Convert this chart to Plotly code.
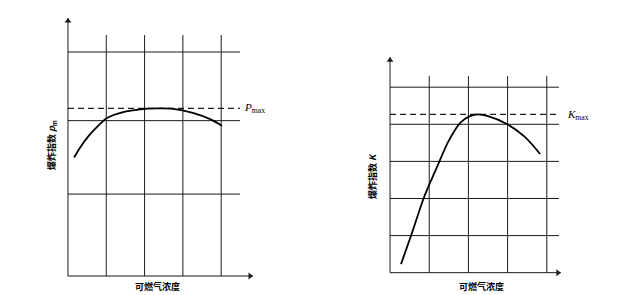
import plotly.graph_objects as go

# ---------------- data ----------------
# Left chart: explosion index p_m vs combustible gas concentration
left_curve_x = [0.16, 0.31, 0.52, 0.76, 1.02, 1.44, 2.01, 2.40, 2.74, 3.26, 3.71, 4.02]
left_curve_y = [3.21, 3.47, 3.77, 4.04, 4.28, 4.44, 4.53, 4.54, 4.53, 4.42, 4.25, 4.07]
left_vgrid = [1, 2, 3, 4]
left_vgrid_top = 6.53
left_hgrid = [2.22, 4.21, 6.07]
left_hgrid_end = 4.49
left_pmax = 4.54
left_x_arrow = 4.83
left_y_arrow = 6.99

# Right chart: explosion index K vs combustible gas concentration
right_curve_x = [0.28, 0.56, 0.87, 1.20, 1.48, 1.79, 2.04, 2.24, 2.50, 2.98, 3.44, 3.83]
right_curve_y = [0.23, 1.07, 2.04, 2.85, 3.52, 4.04, 4.22, 4.27, 4.22, 4.01, 3.66, 3.20]
right_vgrid = [1, 2, 3, 4]
right_vgrid_top = 5.30
right_hgrid = [1, 2, 3, 4, 5]
right_hgrid_end = 4.31
right_kmax = 4.27
right_x_arrow = 4.36
right_y_arrow = 5.81

x_title = "可燃气浓度"
left_y_title = "爆炸指数 <i>p</i><sub>m</sub>"
right_y_title = "爆炸指数 <i>K</i>"
left_max_label = "<i>P</i><sub>max</sub>"
right_max_label = "<i>K</i><sub>max</sub>"

W, H = 623, 295
LINE = "#1a1a1a"
FONT_CJK = "Noto Sans CJK SC"


def grid_xy(vlines, vtop, hlines, hend):
    xs, ys = [], []
    for v in vlines:
        xs += [v, v, None]
        ys += [0, vtop, None]
    for h in hlines:
        xs += [0, hend, None]
        ys += [h, h, None]
    return xs, ys


fig = go.Figure()

for (vg, vt, hg, he, cx, cy, mx, xarr, yarr, xa, ya, xs, ys) in [
    (left_vgrid, left_vgrid_top, left_hgrid, left_hgrid_end, left_curve_x, left_curve_y,
     left_pmax, left_x_arrow, left_y_arrow, "x", "y", 38.3, 36.9),
    (right_vgrid, right_vgrid_top, right_hgrid, right_hgrid_end, right_curve_x, right_curve_y,
     right_kmax, right_x_arrow, right_y_arrow, "x2", "y2", 39.2, 37.1),
]:
    gx, gy = grid_xy(vg, vt, hg, he)
    fig.add_trace(go.Scatter(x=gx, y=gy, mode="lines", xaxis=xa, yaxis=ya,
                             line=dict(color=LINE, width=1), hoverinfo="skip",
                             showlegend=False))
    # axes with arrow heads
    fig.add_trace(go.Scatter(x=[xarr, 0, 0], y=[0, 0, yarr], mode="lines", xaxis=xa, yaxis=ya,
                             line=dict(color=LINE, width=1), hoverinfo="skip",
                             showlegend=False))
    head = 3.0  # px offset so the triangle tip sits at the axis end
    fig.add_trace(go.Scatter(x=[xarr - head / xs, 0], y=[0, yarr - head / ys], mode="markers",
                             xaxis=xa, yaxis=ya, hoverinfo="skip", showlegend=False,
                             marker=dict(symbol=["triangle-right", "triangle-up"], size=6,
                                         color=LINE, line=dict(width=0))))
    fig.add_trace(go.Scatter(x=[0, he], y=[mx, mx], mode="lines", xaxis=xa, yaxis=ya,
                             line=dict(color=LINE, width=1.2, dash="6px,4px"),
                             hoverinfo="skip", showlegend=False))
    fig.add_trace(go.Scatter(x=cx, y=cy, mode="lines", xaxis=xa, yaxis=ya,
                             line=dict(color="black", width=1.8, shape="spline", smoothing=0.8),
                             showlegend=False))

axis_common = dict(showgrid=False, zeroline=False, showticklabels=False, showline=False,
                   ticks="", fixedrange=True)

fig.update_layout(
    width=W, height=H,
    margin=dict(l=0, r=0, t=0, b=0),
    paper_bgcolor="white", plot_bgcolor="white",
    xaxis=dict(domain=[60.3 / W, 259.5 / W], range=[-0.2, 5.0], **axis_common),
    yaxis=dict(domain=[1 - 283.4 / H, 1 - 10.3 / H], range=[-0.2, 7.2], **axis_common),
    xaxis2=dict(domain=[382.2 / W, 570.3 / W], range=[-0.2, 4.6], anchor="y2", **axis_common),
    yaxis2=dict(domain=[1 - 280.1 / H, 1 - 50.1 / H], range=[-0.2, 6.0], anchor="x2", **axis_common),
)

annotations = []
# max labels
annotations.append(dict(x=242 / W, y=1 - 108 / H, xref="paper", yref="paper", text=left_max_label,
                        showarrow=False, xanchor="left", yanchor="middle",
                        font=dict(family="Liberation Serif", size=11, color="black")))
annotations.append(dict(x=565 / W, y=1 - 115 / H, xref="paper", yref="paper", text=right_max_label,
                        showarrow=False, xanchor="left", yanchor="middle",
                        font=dict(family="Liberation Serif", size=11, color="black")))

# axis titles
for xc, title in [(157, x_title), (481, x_title)]:
    annotations.append(dict(x=xc / W, y=1 - 286 / H, xref="paper", yref="paper", text="<b>" + title + "</b>",
                            showarrow=False, xanchor="center", yanchor="middle",
                            font=dict(family=FONT_CJK, size=9, color="black")))
annotations.append(dict(x=52 / W, y=1 - 145 / H, xref="paper", yref="paper", text="<b>" + left_y_title + "</b>",
                        showarrow=False, textangle=-90, xanchor="center", yanchor="middle",
                        font=dict(family=FONT_CJK, size=9, color="black")))
annotations.append(dict(x=372 / W, y=1 - 176 / H, xref="paper", yref="paper", text="<b>" + right_y_title + "</b>",
                        showarrow=False, textangle=-90, xanchor="center", yanchor="middle",
                        font=dict(family=FONT_CJK, size=9, color="black")))

fig.update_layout(annotations=annotations)

fig.write_html("out.html")
